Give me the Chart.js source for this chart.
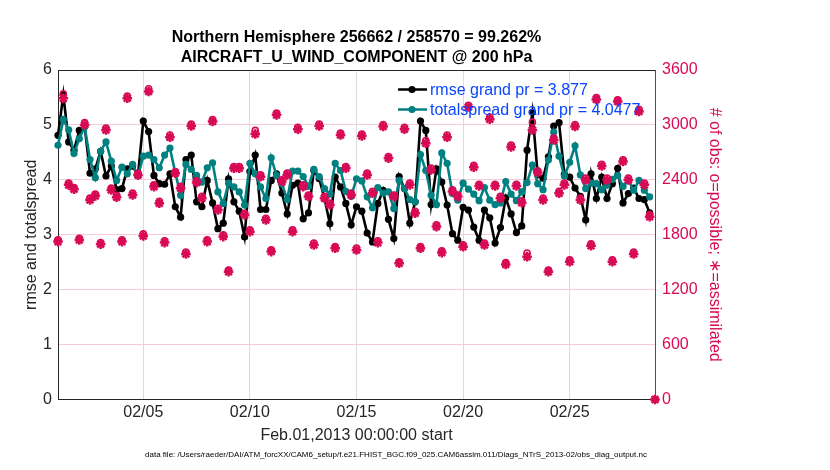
<!DOCTYPE html>
<html>
<head>
<meta charset="utf-8">
<script src="https://cdn.jsdelivr.net/npm/chart.js@4.4.1/dist/chart.umd.min.js"></script>
<style>
html,body{margin:0;padding:0;background:#ffffff;}
#wrap{width:830px;height:470px;position:relative;}
canvas{display:block;}
</style>
</head>
<body>
<div id="wrap"><canvas id="c" width="830" height="470"></canvas></div>
<script>
// ---------------- data ----------------
const titleLines = ['Northern Hemisphere 256662 / 258570 = 99.262%', 'AIRCRAFT_U_WIND_COMPONENT @ 200 hPa'];
const xAxisTitle = 'Feb.01,2013 00:00:00 start';
const leftAxisTitle = 'rmse and totalspread';
const rightAxisTitle = '# of obs: o=possible; \u2217=assimilated';
const footerText = 'data file: /Users/raeder/DAI/ATM_forcXX/CAM6_setup/f.e21.FHIST_BGC.f09_025.CAM6assim.011/Diags_NTrS_2013-02/obs_diag_output.nc';
const legendLabels = ['rmse grand pr = 3.877', 'totalspread grand pr = 4.0477'];

const binHours = 6;            // one value every 6 hours from Feb.01 00:00
const xTickDays = [4, 9, 14, 19, 24];
const xTickLabels = ['02/05', '02/10', '02/15', '02/20', '02/25'];
const leftTicks = [0, 1, 2, 3, 4, 5, 6];
const rightTicks = [0, 600, 1200, 1800, 2400, 3000, 3600];

const rmse = [
 4.81,5.55,4.69,4.54,4.90,4.98,4.12,4.20,4.52,4.07,
 4.25,3.82,3.84,4.20,4.25,4.08,5.07,4.88,4.08,3.93,
 3.92,4.11,3.51,3.32,4.37,4.45,3.60,3.51,3.99,3.58,
 3.11,3.21,4.02,3.60,3.43,2.96,4.15,4.45,3.46,3.46,
 3.99,4.11,3.76,3.38,3.90,3.94,3.29,3.40,4.17,4.02,
 3.66,3.20,4.05,3.87,3.57,3.18,3.51,3.43,3.03,2.87,
 3.57,3.81,3.28,2.93,4.06,3.84,3.21,3.60,5.07,4.90,
 3.55,4.20,3.96,3.54,3.02,2.90,3.50,3.45,3.14,2.90,
 3.45,3.31,2.85,3.13,3.67,3.38,3.04,3.16,4.54,5.23,
 4.09,4.03,4.42,4.98,5.04,4.10,4.05,3.85,3.70,3.27,
 4.11,3.66,4.05,3.66,3.93,4.21,3.58,3.75,3.85,3.66,
 3.64,3.40,null
];
const totalspread = [
 4.63,5.10,4.91,4.48,4.75,4.97,4.37,4.04,4.52,4.69,
 4.34,3.99,4.23,4.11,4.28,4.07,4.43,4.45,4.37,4.22,
 4.45,4.58,4.13,3.72,4.28,4.19,4.08,3.96,4.22,4.31,
 3.78,3.57,3.94,3.87,3.78,3.54,4.30,4.11,3.87,3.66,
 4.40,4.08,3.93,3.64,4.16,4.16,4.06,3.88,4.19,4.06,
 3.84,3.74,4.30,4.17,3.79,3.70,4.02,3.98,3.69,3.49,
 3.86,3.76,3.78,3.48,3.99,3.84,3.64,3.60,4.46,4.17,
 3.72,3.55,4.49,4.30,3.75,3.63,3.94,3.83,3.74,3.62,
 3.86,3.63,3.55,3.58,3.97,3.74,3.62,3.78,3.95,4.27,
 3.93,3.82,4.36,4.87,4.43,4.07,4.32,4.62,4.09,3.84,
 3.94,3.93,3.82,3.90,4.01,4.08,3.88,3.99,3.81,3.99,
 3.81,3.69,null
];
const nPossible = [
 1745,3340,2365,2315,1760,3025,2200,2245,1715,2965,
 2310,2230,1745,3315,2255,2475,1810,3395,2345,2165,
 1735,2890,2490,2330,1610,3010,2390,2220,1745,3060,
 2090,1800,1415,2545,2545,2035,1855,2940,2455,1980,
 1635,3130,2400,2475,1855,2975,2345,2235,1710,3010,
 2220,2145,1670,2910,2545,2255,1655,2900,2475,2275,
 1735,3005,2655,2235,1505,2975,2365,2055,1670,2830,
 2530,1910,1625,2890,2290,2235,1690,3215,2560,2350,
 1710,3085,2350,2220,1495,2780,2350,2170,1600,3030,
 2500,2200,1415,2860,2275,2365,1525,3005,2200,2420,
 1700,3300,2570,2420,1525,3275,2620,2420,1610,3170,
 2365,2020,0
];
const nAssimilated = [
 1725,3290,2345,2297,1743,3000,2180,2225,1696,2945,
 2290,2210,1725,3292,2235,2454,1787,3365,2326,2144,
 1714,2866,2472,2308,1590,2989,2370,2199,1725,3037,
 2071,1780,1397,2527,2527,2017,1834,2900,2435,1962,
 1616,3110,2381,2454,1834,2953,2326,2217,1689,2989,
 2199,2126,1652,2891,2527,2235,1634,2880,2454,2254,
 1714,2982,2636,2217,1488,2953,2345,2035,1652,2800,
 2508,1889,1605,2866,2272,2217,1670,3195,2538,2333,
 1689,3062,2333,2199,1475,2760,2333,2150,1561,2945,
 2480,2180,1397,2836,2254,2345,1506,2982,2180,2399,
 1680,3279,2551,2399,1506,3255,2600,2399,1590,3146,
 2345,1998,0
];

// ---------------- styles ----------------
const FONT = "'Liberation Sans', Arial, Helvetica, sans-serif";
const C_RMSE = '#000000';
const C_SPREAD = '#008080';
const C_OBS = '#d80a55';
const C_TEXT = '#262626';
const C_LEGEND = '#0a46ff';

Chart.defaults.font.family = FONT;

const toXY = arr => arr.map((v, i) => ({ x: i * binHours / 24, y: v }));

const framePlugin = {
  id: 'frame',
  afterDraw(chart) {
    const { ctx, chartArea: a } = chart;
    ctx.save();
    ctx.strokeStyle = C_TEXT;
    ctx.lineWidth = 1;
    ctx.beginPath();
    ctx.moveTo(a.left, a.top + 0.5);
    ctx.lineTo(a.right, a.top + 0.5);
    ctx.stroke();
    ctx.restore();
  }
};

const legendPlugin = {
  id: 'customLegend',
  afterDraw(chart) {
    const { ctx, chartArea: a } = chart;
    const rows = [
      { color: C_RMSE, label: legendLabels[0], y: a.top + 19.5 },
      { color: C_SPREAD, label: legendLabels[1], y: a.top + 39.5 }
    ];
    ctx.save();
    rows.forEach(r => {
      const x0 = a.left + 340, x1 = a.left + 369, xm = a.left + 354;
      ctx.strokeStyle = r.color;
      ctx.lineWidth = 2.5;
      ctx.beginPath();
      ctx.moveTo(x0, r.y); ctx.lineTo(x1, r.y); ctx.stroke();
      ctx.fillStyle = r.color;
      ctx.beginPath(); ctx.arc(xm, r.y, 3.6, 0, Math.PI * 2); ctx.fill();
      ctx.fillStyle = C_LEGEND;
      ctx.font = '16px ' + FONT;
      ctx.textBaseline = 'middle';
      ctx.textAlign = 'left';
      ctx.fillText(r.label, a.left + 372, r.y + 1);
    });
    ctx.restore();
  }
};

const footerPlugin = {
  id: 'footer',
  afterDraw(chart) {
    const { ctx } = chart;
    ctx.save();
    ctx.fillStyle = '#000000';
    ctx.font = '8px ' + FONT;
    ctx.textAlign = 'center';
    ctx.textBaseline = 'middle';
    ctx.fillText(footerText, 396, 455);
    ctx.restore();
  }
};

new Chart(document.getElementById('c'), {
  type: 'line',
  data: {
    datasets: [
      {
        label: 'rmse', data: toXY(rmse), yAxisID: 'y',
        borderColor: C_RMSE, backgroundColor: C_RMSE, borderWidth: 2.6,
        pointRadius: 3.6, pointBorderWidth: 0, pointStyle: 'circle',
        spanGaps: false, order: 4, clip: 6
      },
      {
        label: 'totalspread', data: toXY(totalspread), yAxisID: 'y',
        borderColor: C_SPREAD, backgroundColor: C_SPREAD, borderWidth: 2.6,
        pointRadius: 3.6, pointBorderWidth: 0, pointStyle: 'circle',
        spanGaps: false, order: 3, clip: 6
      },
      {
        label: 'assimilated', data: toXY(nAssimilated), yAxisID: 'y1',
        showLine: false, borderColor: C_OBS, backgroundColor: C_OBS,
        pointStyle: 'star', pointRadius: 4.8, pointBorderWidth: 2.5, order: 2, clip: false
      },
      {
        label: 'possible', data: toXY(nPossible), yAxisID: 'y1',
        showLine: false, borderColor: C_OBS, backgroundColor: 'rgba(0,0,0,0)',
        pointStyle: 'circle', pointRadius: 3, pointBorderWidth: 1.6, order: 1, clip: false
      }
    ]
  },
  options: {
    responsive: false,
    animation: false,
    layout: { padding: 0 },
    plugins: {
      legend: { display: false },
      tooltip: { enabled: false },
      title: {
        display: true, fullSize: false, text: titleLines,
        color: '#000000',
        font: { size: 16, weight: 'bold', family: FONT, lineHeight: 1.2 },
        padding: { top: 28.4, bottom: 3.2 }
      }
    },
    scales: {
      x: {
        type: 'linear', min: 0, max: 28, position: 'bottom',
        afterBuildTicks: s => { s.ticks = xTickDays.map(v => ({ value: v })); },
        afterFit: s => { s.height = 70.5; },
        ticks: {
          callback: (v, i) => xTickLabels[i],
          color: C_TEXT, font: { size: 16 }, padding: 3,
          maxRotation: 0, autoSkip: false
        },
        grid: { color: '#dcdcdc', lineWidth: 1, drawTicks: false },
        border: { color: C_TEXT, width: 1 },
        title: {
          display: true, text: xAxisTitle, color: C_TEXT,
          font: { size: 16, lineHeight: 1.2 }, padding: { top: 0, bottom: 24.4 }
        }
      },
      y: {
        type: 'linear', position: 'left', min: 0, max: 6,
        afterBuildTicks: s => { s.ticks = leftTicks.map(v => ({ value: v })); },
        afterFit: s => { s.width = 58; },
        ticks: { color: C_TEXT, font: { size: 16 }, padding: 6, callback: v => String(v) },
        grid: { display: false, drawTicks: false },
        border: { color: C_TEXT, width: 1 },
        title: {
          display: true, text: leftAxisTitle, color: C_TEXT,
          font: { size: 16, lineHeight: 1.2 }, padding: { top: 22.4, bottom: 0 }
        }
      },
      y1: {
        type: 'linear', position: 'right', min: 0, max: 3600,
        afterBuildTicks: s => { s.ticks = rightTicks.map(v => ({ value: v })); },
        afterFit: s => { s.width = 175; },
        ticks: { color: C_OBS, font: { size: 16 }, padding: 7, callback: v => String(v) },
        grid: { color: '#f6cadb', lineWidth: 1, drawTicks: false },
        border: { color: C_OBS, width: 1 },
        title: {
          display: true, text: rightAxisTitle, color: C_OBS,
          font: { size: 16, lineHeight: 1.2 }, padding: { top: 106.4, bottom: 0 }
        }
      }
    }
  },
  plugins: [framePlugin, legendPlugin, footerPlugin]
});
</script>
</body>
</html>
